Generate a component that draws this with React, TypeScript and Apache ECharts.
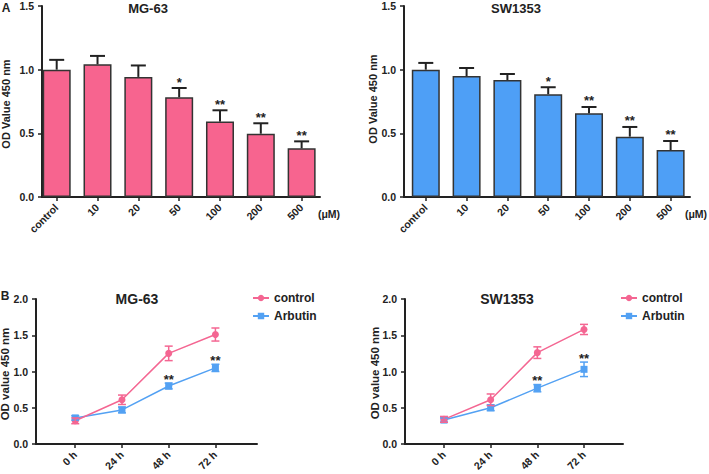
import React, { useEffect, useRef } from "react";
import * as echarts from "echarts";

// ---------- data ----------
const DOSES = ["control", "10", "20", "50", "100", "200", "500"];
const MG_BAR = [1.0, 1.042, 0.943, 0.783, 0.592, 0.497, 0.382];
const MG_BAR_ERR = [0.077, 0.066, 0.09, 0.073, 0.089, 0.082, 0.055];
const SW_BAR = [1.0, 0.95, 0.919, 0.807, 0.657, 0.474, 0.369];
const SW_BAR_ERR = [0.053, 0.063, 0.047, 0.055, 0.05, 0.076, 0.071];
const DOSE_SIG = ["", "", "", "*", "**", "**", "**"];

const HOURS = ["0 h", "24 h", "48 h", "72 h"];
const MG_CTRL = [0.32, 0.61, 1.25, 1.51];
const MG_CTRL_ERR = [0.04, 0.065, 0.1, 0.09];
const MG_ARB = [0.36, 0.47, 0.8, 1.05];
const MG_ARB_ERR = [0.03, 0.04, 0.04, 0.05];
const SW_CTRL = [0.34, 0.61, 1.26, 1.58];
const SW_CTRL_ERR = [0.04, 0.08, 0.08, 0.07];
const SW_ARB = [0.33, 0.5, 0.77, 1.03];
const SW_ARB_ERR = [0.03, 0.04, 0.05, 0.1];
const TIME_SIG = ["", "", "**", "**"];

const BAR_TICKS = [0, 0.5, 1.0, 1.5];
const LINE_TICKS = [0, 0.5, 1.0, 1.5, 2.0];

// ---------- style ----------
const FONT = '"Liberation Sans", Arial, sans-serif';
const INK = "#222";
const PINK_BAR = "#F7648F";
const BLUE_BAR = "#4E9FF6";
const PINK_LINE = "#F46692";
const BLUE_LINE = "#53A1F3";

function xAxisDef(gridIndex: number, min: number, max: number, labels: string[]) {
  const idx = labels.map((_, i) => i);
  return {
    type: "value",
    gridIndex,
    min,
    max,
    axisLine: { show: true, onZero: false, lineStyle: { color: INK, width: 2 } },
    axisTick: { show: true, customValues: idx, length: 4, lineStyle: { color: INK, width: 1.5 } },
    axisLabel: {
      customValues: idx,
      formatter: (v: number) => labels[Math.round(v)] ?? "",
      rotate: 45,
      margin: 9,
      color: INK,
      fontSize: 10.5,
      fontWeight: "bold",
      fontFamily: FONT,
    },
    splitLine: { show: false },
    splitArea: { show: false },
  };
}

function yAxisDef(gridIndex: number, ticks: number[]) {
  return {
    type: "value",
    gridIndex,
    min: ticks[0],
    max: ticks[ticks.length - 1],
    interval: 0.5,
    axisLine: { show: true, onZero: false, lineStyle: { color: INK, width: 2 } },
    axisTick: { show: true, length: 4, lineStyle: { color: INK, width: 1.5 } },
    axisLabel: {
      formatter: (v: number) => v.toFixed(1),
      margin: 8,
      color: INK,
      fontSize: 10.5,
      fontWeight: "bold",
      fontFamily: FONT,
    },
    splitLine: { show: false },
    splitArea: { show: false },
  };
}

function barSeries(ax: number, vals: number[], errs: number[], sig: string[], color: string) {
  return [
    {
      type: "bar",
      name: "bar" + ax,
      xAxisIndex: ax,
      yAxisIndex: ax,
      barWidth: 28,
      data: vals.map((v, i) => [i, v]),
      itemStyle: { color, borderColor: "#333", borderWidth: 1.5 },
      z: 2,
    },
    {
      type: "custom",
      name: "barerr" + ax,
      xAxisIndex: ax,
      yAxisIndex: ax,
      z: 3,
      encode: { x: 0, y: 1 },
      data: vals.map((v, i) => [i, v + errs[i]]),
      renderItem: (params: any, api: any) => {
        const i = params.dataIndex;
        const base = api.coord([i, vals[i]]);
        const top = api.coord([i, vals[i] + errs[i]]);
        const st = { stroke: "#222", lineWidth: 2, fill: "none" };
        const children: any[] = [
          { type: "polyline", shape: { points: [[top[0], base[1]], [top[0], top[1]]] }, style: st },
          { type: "polyline", shape: { points: [[top[0] - 7.5, top[1]], [top[0] + 7.5, top[1]]] }, style: st },
        ];
        const s = sig[i];
        if (s) {
          children.push({
            type: "text",
            x: top[0],
            y: top[1] - 6,
            style: { text: s, fill: "#222", font: `bold 13px ${FONT}`, align: "center", verticalAlign: "middle" },
          });
        }
        return { type: "group", children };
      },
    },
  ];
}

function lineSeries(ax: number, name: string, vals: number[], errs: number[], color: string, symbol: string, sig: string[] | null) {
  return [
    {
      type: "line",
      name,
      xAxisIndex: ax,
      yAxisIndex: ax,
      data: vals.map((v, i) => [i, v]),
      symbol,
      symbolSize: 7,
      lineStyle: { color, width: 1.5 },
      itemStyle: { color },
      z: 3,
    },
    {
      type: "custom",
      name: name + "-err" + ax,
      xAxisIndex: ax,
      yAxisIndex: ax,
      z: 4,
      encode: { x: 0, y: 1 },
      data: vals.map((v, i) => [i, v]),
      renderItem: (params: any, api: any) => {
        const i = params.dataIndex;
        const lo = api.coord([i, vals[i] - errs[i]]);
        const hi = api.coord([i, vals[i] + errs[i]]);
        const st = { stroke: color, lineWidth: 1.5, fill: "none" };
        const children: any[] = [
          { type: "polyline", shape: { points: [[lo[0], lo[1]], [hi[0], hi[1]]] }, style: st },
          { type: "polyline", shape: { points: [[hi[0] - 4, hi[1]], [hi[0] + 4, hi[1]]] }, style: st },
          { type: "polyline", shape: { points: [[lo[0] - 4, lo[1]], [lo[0] + 4, lo[1]]] }, style: st },
        ];
        const s = sig ? sig[i] : "";
        if (s) {
          children.push({
            type: "text",
            x: hi[0],
            y: hi[1] - 4,
            style: { text: s, fill: "#222", font: `bold 13px ${FONT}`, align: "center", verticalAlign: "middle" },
          });
        }
        return { type: "group", children };
      },
    },
  ];
}

function txt(text: string, x: number, y: number, size: number, rotation = 0) {
  return {
    type: "text",
    x,
    y,
    rotation,
    style: { text, fill: INK, font: `bold ${size}px ${FONT}`, align: "center", verticalAlign: "middle" },
  };
}

function legendDef(left: number) {
  return {
    data: ["control", "Arbutin"],
    orient: "vertical",
    left,
    top: 292,
    padding: 0,
    itemWidth: 16,
    itemHeight: 8,
    itemGap: 6,
    selectedMode: false,
    textStyle: { color: INK, fontSize: 12, fontWeight: "bold", fontFamily: FONT },
  };
}

function buildOption() {
  return {
    animation: false,
    backgroundColor: "#fff",
    grid: [
      { left: 42, top: 6, width: 278, height: 191, outerBoundsMode: "none" },
      { left: 404, top: 6, width: 286, height: 191, outerBoundsMode: "none" },
      { left: 36, top: 299, width: 221, height: 145, outerBoundsMode: "none" },
      { left: 405, top: 299, width: 218, height: 145, outerBoundsMode: "none" },
    ],
    xAxis: [
      xAxisDef(0, -0.36, 6.45, DOSES),
      xAxisDef(1, -0.534, 6.475, DOSES),
      xAxisDef(2, -0.84, 3.89, HOURS),
      xAxisDef(3, -0.835, 3.835, HOURS),
    ],
    yAxis: [yAxisDef(0, BAR_TICKS), yAxisDef(1, BAR_TICKS), yAxisDef(2, LINE_TICKS), yAxisDef(3, LINE_TICKS)],
    legend: [legendDef(252), legendDef(620)],
    series: [
      ...barSeries(0, MG_BAR, MG_BAR_ERR, DOSE_SIG, PINK_BAR),
      ...barSeries(1, SW_BAR, SW_BAR_ERR, DOSE_SIG, BLUE_BAR),
      ...lineSeries(2, "Arbutin", MG_ARB, MG_ARB_ERR, BLUE_LINE, "rect", TIME_SIG),
      ...lineSeries(2, "control", MG_CTRL, MG_CTRL_ERR, PINK_LINE, "circle", null),
      ...lineSeries(3, "Arbutin", SW_ARB, SW_ARB_ERR, BLUE_LINE, "rect", TIME_SIG),
      ...lineSeries(3, "control", SW_CTRL, SW_CTRL_ERR, PINK_LINE, "circle", null),
    ],
    graphic: {
      elements: [
        txt("A", 6, 8, 12),
        txt("B", 5, 296, 12),
        txt("MG-63", 148, 8, 13),
        txt("SW1353", 516, 8, 13),
        txt("MG-63", 137, 299, 14),
        txt("SW1353", 507, 299, 14),
        txt("OD Value 450 nm", 6, 104, 11, Math.PI / 2),
        txt("OD Value 450 nm", 373, 99, 11, Math.PI / 2),
        txt("OD value 450 nm", 5, 374, 11.5, Math.PI / 2),
        txt("OD value 450 nm", 375, 373, 11.5, Math.PI / 2),
        txt("(μM)", 329, 214, 10.5),
        txt("(μM)", 696, 214, 10.5),
      ],
    },
  };
}

export default function App() {
  const ref = useRef<HTMLDivElement>(null);
  useEffect(() => {
    const chart = echarts.init(ref.current!, null, { renderer: "svg" });
    chart.setOption(buildOption() as any);
    return () => chart.dispose();
  }, []);
  return <div ref={ref} style={{ position: "absolute", left: 0, top: 0, width: 709, height: 474 }} />;
}
